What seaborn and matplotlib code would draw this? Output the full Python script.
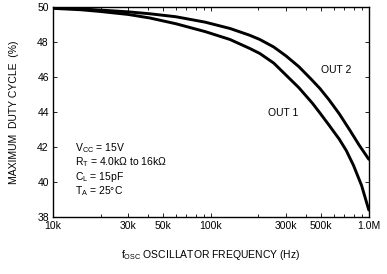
import matplotlib
matplotlib.use("Agg")
import matplotlib.pyplot as plt
import matplotlib.ticker as mticker
import seaborn as sns
import pandas as pd

freq_out2 = [10e3, 15e3, 20e3, 30e3, 41e3, 60e3, 92e3, 132e3, 175e3, 204e3,
             250e3, 300e3, 360e3, 424e3, 490e3, 560e3, 650e3, 760e3, 870e3, 1e6]
out2 = [49.97, 49.9, 49.83, 49.73, 49.62, 49.45, 49.14, 48.78, 48.4, 48.15,
        47.72, 47.2, 46.6, 45.95, 45.35, 44.7, 43.9, 42.95, 42.1, 41.3]
freq_out1 = [10e3, 15e3, 20e3, 30e3, 41e3, 60e3, 92e3, 132e3, 175e3, 204e3,
             250e3, 300e3, 360e3, 440e3, 490e3, 560e3, 650e3, 720e3, 800e3, 900e3, 1e6]
out1 = [49.93, 49.85, 49.75, 49.58, 49.38, 49.05, 48.6, 48.15, 47.65, 47.35,
        46.8, 46.1, 45.4, 44.5, 43.95, 43.25, 42.45, 41.8, 40.95, 39.8, 38.4]
xticks = [10e3, 30e3, 50e3, 100e3, 300e3, 500e3, 1e6]
xtick_labels = ["10k", "30k", "50k", "100k", "300k", "500k", "1.0M"]
yticks = [38, 40, 42, 44, 46, 48, 50]

sns.set_theme(style="ticks")
plt.rcParams["font.family"] = ["Liberation Sans", "DejaVu Sans"]
plt.rcParams["mathtext.fontset"] = "custom"
plt.rcParams["mathtext.rm"] = "Liberation Sans"
plt.rcParams["mathtext.it"] = "Liberation Sans"
plt.rcParams["text.color"] = "black"
plt.rcParams["axes.labelcolor"] = "black"

df = pd.DataFrame({
    "freq": freq_out1 + freq_out2,
    "duty": out1 + out2,
    "series": ["OUT 1"] * len(out1) + ["OUT 2"] * len(out2),
})

fig = plt.figure(figsize=(3.87, 2.74), dpi=100)
ax = fig.add_axes([0.137, 0.208, 0.816, 0.766])
sns.lineplot(data=df, x="freq", y="duty", hue="series",
             palette={"OUT 1": "black", "OUT 2": "black"},
             linewidth=2.1, legend=False, ax=ax, estimator=None, sort=True)
ax.set_xscale("log")
ax.set_xlim(10e3, 1e6)
ax.set_ylim(38, 50)
ax.set_xticks(xticks)
ax.set_xticklabels(xtick_labels)
ax.xaxis.set_minor_locator(mticker.LogLocator(base=10, subs=range(2, 10)))
ax.xaxis.set_minor_formatter(mticker.NullFormatter())
ax.set_yticks(yticks)
ax.tick_params(axis="both", which="both", direction="in", top=True, right=True,
               labelsize=7.5, colors="black", length=3, width=0.6, pad=3)
ax.tick_params(axis="both", which="minor", length=2)
for s in ax.spines.values():
    s.set_linewidth(1.0)
    s.set_color("black")

ax.set_xlabel(r"f$_{\mathrm{OSC}}$ OSCILLATOR FREQUENCY (Hz)", fontsize=7.5, labelpad=12)
ax.set_ylabel("MAXIMUM  DUTY CYCLE  (%)", fontsize=7.5, labelpad=13)

ax.text(0.848, 0.70, "OUT 2", transform=ax.transAxes, fontsize=7.5, va="center")
ax.text(0.68, 0.495, "OUT 1", transform=ax.transAxes, fontsize=7.5, va="center")
ax.text(0.07, 0.09,
        "V$_{\\mathrm{CC}}$ = 15V\n"
        "R$_{\\mathrm{T}}$ = 4.0k\u03a9 to 16k\u03a9\n"
        "C$_{\\mathrm{L}}$ = 15pF\n"
        "T$_{\\mathrm{A}}$ = 25\u00b0C",
        transform=ax.transAxes, fontsize=7.5, linespacing=1.05, va="bottom")

fig.savefig("out.png", dpi=100)
